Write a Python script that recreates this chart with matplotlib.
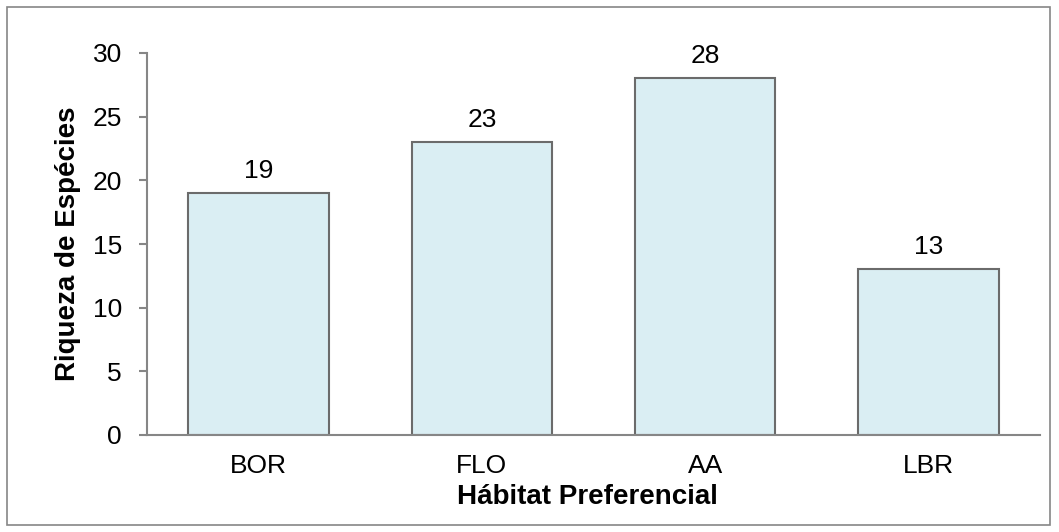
import matplotlib
matplotlib.use("Agg")
import matplotlib.pyplot as plt
from matplotlib.patches import Rectangle

plt.rcParams['font.family'] = ['Liberation Sans', 'DejaVu Sans']

# data
habitats = ['BOR', 'FLO', 'AA', 'LBR']
riqueza = [19, 23, 28, 13]

fig = plt.figure(figsize=(10.59, 5.32), dpi=100)
ax = fig.add_axes([147/1059, 1 - 435/532, (1040 - 147)/1059, (435 - 53)/532])

bars = ax.bar(range(len(habitats)), riqueza, width=0.63, color='#DAEEF3',
              edgecolor='#6b6b6b', linewidth=1.5, zorder=2)
ax.bar_label(bars, labels=[str(v) for v in riqueza], padding=7.5, fontsize=19)

ax.set_xlim(-0.5, len(habitats) - 0.5)
ax.set_ylim(0, 30)
ax.set_yticks(range(0, 31, 5))
ax.set_xticks(range(len(habitats)))
ax.set_xticklabels(habitats)

for s in ['top', 'right']:
    ax.spines[s].set_visible(False)
for s in ['left', 'bottom']:
    ax.spines[s].set_color('#868686')
    ax.spines[s].set_linewidth(1.5)
ax.tick_params(axis='y', length=6, width=1.5, color='#868686', labelsize=19, pad=12)
ax.tick_params(axis='x', length=0, labelsize=19, pad=14)

fig.text(68/1059, 1 - 244/532, 'Riqueza de Espécies', rotation=90, fontsize=20,
         fontweight='bold', ha='center', va='center')
fig.text(587/1059, 1 - 497/532, 'Hábitat Preferencial', fontsize=20,
         fontweight='bold', ha='center', va='center')

# outer chart border
fig.patches.append(Rectangle((7/1059, 7/532), 1043/1059, 518/532, transform=fig.transFigure,
                             fill=False, edgecolor='#868686', linewidth=1.2))

fig.savefig('out.png', dpi=100)
